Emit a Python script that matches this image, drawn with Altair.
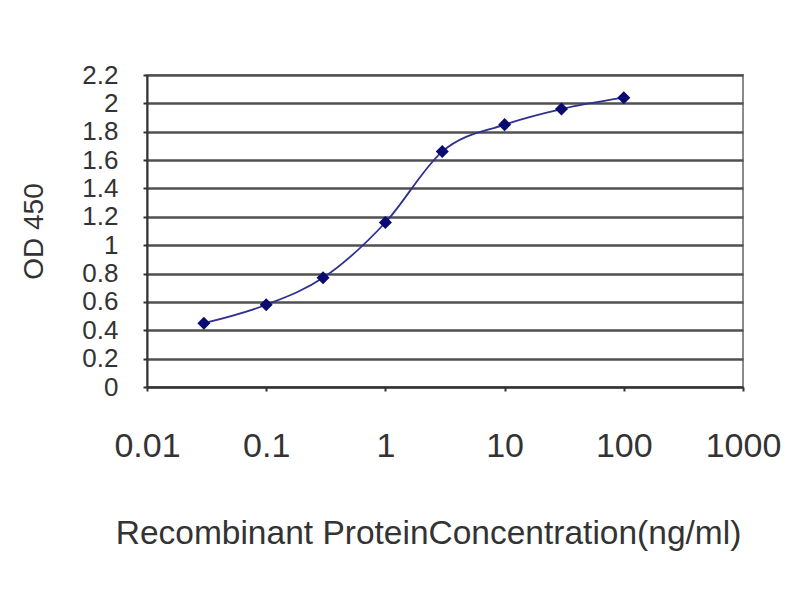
import altair as alt
import pandas as pd

concentration = [0.03, 0.1, 0.3, 1, 3, 10, 30, 100]
od450 = [0.45, 0.58, 0.77, 1.16, 1.66, 1.85, 1.96, 2.04]
x_ticks = [0.01, 0.1, 1, 10, 100, 1000]
y_ticks = [0, 0.2, 0.4, 0.6, 0.8, 1.0, 1.2, 1.4, 1.6, 1.8, 2.0, 2.2]

df = pd.DataFrame({"conc": concentration, "od": od450})

FONT = "Liberation Sans"
TXT = "#333333"

x_enc = alt.X(
    "conc:Q",
    scale=alt.Scale(type="log", domain=[0.01, 1000], nice=False),
    axis=alt.Axis(
        values=x_ticks, format="~g", grid=False,
        title="Recombinant ProteinConcentration(ng/ml)",
        labelFont=FONT, labelFontSize=34, labelColor=TXT, labelPadding=38,
        labelFlush=False, labelOverlap=False,
        titleFont=FONT, titleFontSize=33.5, titleFontWeight="normal", titleColor=TXT,
        titleX=281, titleY=146, titleAlign="center", titleBaseline="middle",
        domainColor="#333333", domainWidth=2, tickColor="#333333", tickWidth=2, tickSize=4,
    ),
)
y_enc = alt.Y(
    "od:Q",
    scale=alt.Scale(domain=[0, 2.2], nice=False),
    axis=alt.Axis(
        values=y_ticks, format="~g", grid=True,
        gridColor="#505050", gridWidth=2.5, gridOpacity=1,
        title="OD 450",
        labelFont=FONT, labelFontSize=26, labelColor=TXT, labelPadding=25,
        labelOverlap=False, labelFlush=False, labelBaseline="middle",
        titleFont=FONT, titleFontSize=28, titleFontWeight="normal", titleColor=TXT,
        titleX=-113, titleY=156, titleAngle=270, titleAlign="center", titleBaseline="middle",
        domainColor="#333333", domainWidth=2, tickColor="#333333", tickWidth=2, tickSize=4,
    ),
)

base = alt.Chart(df).encode(x=x_enc, y=y_enc)
line = base.mark_line(color="#30308f", strokeWidth=1.8, interpolate="monotone")
pts = base.mark_point(shape="diamond", filled=True, color="#0a0a70", size=170, opacity=1)

chart = (
    alt.layer(line, pts)
    .properties(
        width=596, height=312,
        autosize=alt.AutoSizeParams(type="none"),
        padding={"left": 139, "top": 67, "right": 49, "bottom": 205},
        background="white",
    )
    .configure_view(stroke="#8a8a8a", strokeWidth=2)
)

chart.save("out.html", embed_options={"renderer": "svg", "actions": False})
